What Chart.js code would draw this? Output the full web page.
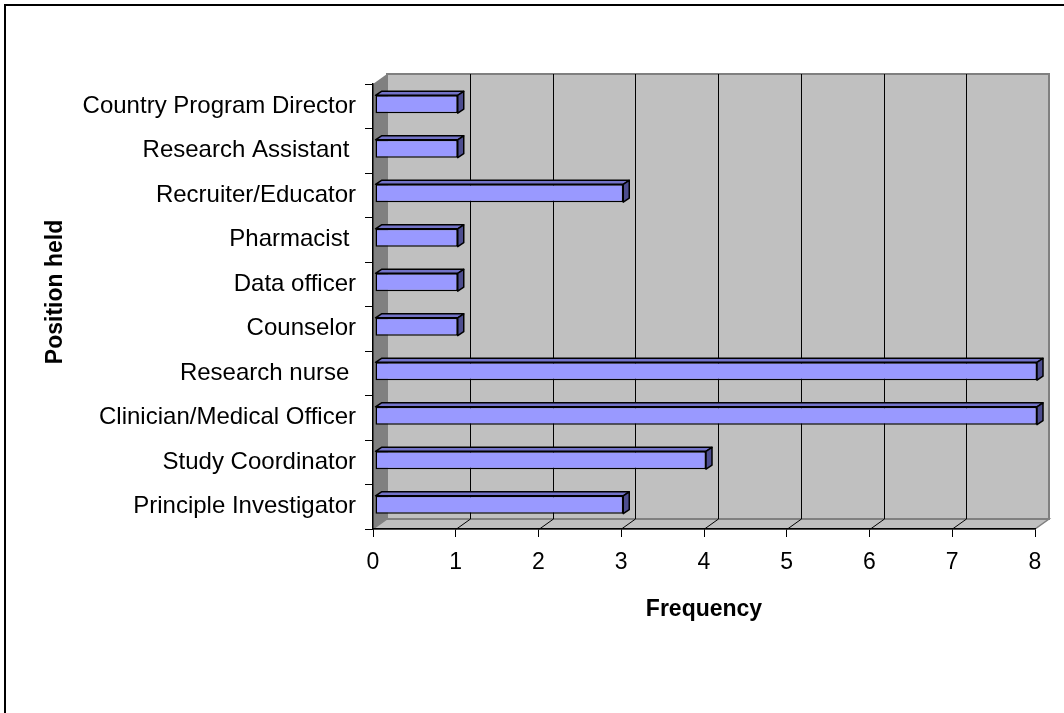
<!DOCTYPE html>
<html>
<head>
<meta charset="utf-8">
<script src="https://cdn.jsdelivr.net/npm/chart.js@4"></script>
<style>
    html, body { margin: 0; padding: 0; background: #fff; }
    #wrap { position: relative; width: 1064px; height: 713px; overflow: hidden; }
    #frame { position: absolute; left: 4px; top: 4px; width: 1100px; height: 800px;
             border-top: 2px solid #000; border-left: 2px solid #000; pointer-events: none; }
    canvas { position: absolute; left: 0; top: 0; }
</style>
</head>
<body>
<div id="wrap">
    <canvas id="posChart" width="1064" height="713"></canvas>
    <div id="frame"></div>
</div>
<script>
// --- dados (de baixo para cima, como no Excel) ---
const positions = [
    'Principle Investigator',
    'Study Coordinator',
    'Clinician/Medical Officer',
    'Research nurse ',
    'Counselor',
    'Data officer',
    'Pharmacist ',
    'Recruiter/Educator',
    'Research Assistant ',
    'Country Program Director'
];
const frequency = [3, 4, 8, 8, 1, 1, 1, 3, 1, 1];
const freqTicks = [0, 1, 2, 3, 4, 5, 6, 7, 8];
const yTitle = 'Position held';

const FONT = "Arial, 'Liberation Sans', sans-serif";
const WALL_DX = 14, WALL_DY = -10;   // profundidade das paredes
const BAR_DX = 6, BAR_DY = -4;       // profundidade das barras
const BAR_SHIFT_X = 2, BAR_SHIFT_Y = -2;

// --- plugin que desenha as paredes 3D e as faces das barras ---
const fake3d = {
    id: 'fake3d',
    beforeDraw(chart) {
        const { ctx, chartArea: a, scales: { x } } = chart;
        ctx.save();
        // parede lateral
        ctx.fillStyle = '#808080';
        ctx.beginPath();
        ctx.moveTo(a.left, a.top);
        ctx.lineTo(a.left + WALL_DX, a.top + WALL_DY);
        ctx.lineTo(a.left + WALL_DX, a.bottom + WALL_DY);
        ctx.lineTo(a.left, a.bottom);
        ctx.closePath();
        ctx.fill();
        // piso
        ctx.fillStyle = '#c0c0c0';
        ctx.beginPath();
        ctx.moveTo(a.left, a.bottom);
        ctx.lineTo(a.left + WALL_DX, a.bottom + WALL_DY);
        ctx.lineTo(a.right + WALL_DX, a.bottom + WALL_DY);
        ctx.lineTo(a.right, a.bottom);
        ctx.closePath();
        ctx.fill();
        ctx.strokeStyle = '#808080';
        ctx.lineWidth = 1.5;
        ctx.stroke();
        // parede do fundo
        ctx.fillStyle = '#c0c0c0';
        ctx.fillRect(a.left + WALL_DX, a.top + WALL_DY, a.right - a.left, a.bottom - a.top);
        ctx.strokeStyle = '#808080';
        ctx.lineWidth = 2;
        ctx.strokeRect(a.left + WALL_DX, a.top + WALL_DY, a.right - a.left, a.bottom - a.top);
        // linhas de grade (fundo + piso)
        ctx.strokeStyle = '#000';
        ctx.lineWidth = 1;
        freqTicks.forEach(v => {
            if (v <= 0 || v >= 8) return;
            const px = Math.round(x.getPixelForValue(v)) + 0.5;
            ctx.beginPath();
            ctx.moveTo(px + WALL_DX, a.top + WALL_DY);
            ctx.lineTo(px + WALL_DX, a.bottom + WALL_DY);
            ctx.lineTo(px, a.bottom);
            ctx.stroke();
        });
        ctx.restore();
    },
    beforeDatasetsDraw(chart) {
        chart.ctx.save();
        chart.ctx.translate(BAR_SHIFT_X, BAR_SHIFT_Y);
    },
    afterDatasetsDraw(chart) {
        const { ctx } = chart;
        const meta = chart.getDatasetMeta(0);
        ctx.lineWidth = 1.5;
        ctx.strokeStyle = '#000';
        ctx.lineJoin = 'round';
        meta.data.forEach(bar => {
            const top = bar.y - bar.height / 2;
            const bottom = bar.y + bar.height / 2;
            // face de cima
            ctx.fillStyle = '#7373c8';
            ctx.beginPath();
            ctx.moveTo(bar.base, top);
            ctx.lineTo(bar.base + BAR_DX, top + BAR_DY);
            ctx.lineTo(bar.x + BAR_DX, top + BAR_DY);
            ctx.lineTo(bar.x, top);
            ctx.closePath();
            ctx.fill();
            ctx.stroke();
            // face da ponta
            ctx.fillStyle = '#4d4d8f';
            ctx.beginPath();
            ctx.moveTo(bar.x, top);
            ctx.lineTo(bar.x + BAR_DX, top + BAR_DY);
            ctx.lineTo(bar.x + BAR_DX, bottom + BAR_DY);
            ctx.lineTo(bar.x, bottom);
            ctx.closePath();
            ctx.fill();
            ctx.stroke();
        });
        ctx.restore();
    },
    afterDraw(chart) {
        // título do eixo y (posição igual à do Excel)
        const { ctx } = chart;
        ctx.save();
        ctx.translate(56, 292);
        ctx.rotate(-Math.PI / 2);
        ctx.font = `bold 23px ${FONT}`;
        ctx.fillStyle = '#000';
        ctx.textAlign = 'center';
        ctx.textBaseline = 'middle';
        ctx.fillText(yTitle, 0, 0);
        ctx.restore();
    }
};

new Chart(document.getElementById('posChart'), {
    type: 'bar',
    data: {
        labels: positions,
        datasets: [{
            data: frequency,
            backgroundColor: '#9999ff',
            borderColor: '#000',
            borderWidth: 1.5,
            borderSkipped: false,
            categoryPercentage: 1,
            barPercentage: 0.4,
            clip: false
        }]
    },
    options: {
        indexAxis: 'y',
        responsive: false,
        animation: false,
        devicePixelRatio: 1,
        layout: { padding: { left: 0, top: 84, right: 29, bottom: 86 } },
        plugins: { legend: { display: false }, tooltip: { enabled: false } },
        scales: {
            x: {
                min: 0, max: 8,
                afterBuildTicks: s => { s.ticks = freqTicks.map(v => ({ value: v })); },
                afterFit: s => { s.height = 98; },
                grid: { drawOnChartArea: false, tickLength: 8, color: '#000', lineWidth: 1 },
                border: { color: '#000', width: 1.5 },
                ticks: { color: '#000', padding: 12, font: { family: FONT, size: 23 } },
                title: {
                    display: true, text: 'Frequency', color: '#000',
                    font: { family: FONT, size: 23, weight: 'bold' },
                    padding: { top: 0, bottom: 4 }
                }
            },
            y: {
                reverse: true,
                afterFit: s => { s.width = 373; },
                grid: { drawOnChartArea: false, tickLength: 8, color: '#000', lineWidth: 1, offset: true },
                border: { color: '#000', width: 1.5 },
                ticks: { color: '#000', padding: 9, font: { family: FONT, size: 24 }, autoSkip: false },
                title: { display: false }
            }
        }
    },
    plugins: [fake3d]
});
</script>
</body>
</html>
